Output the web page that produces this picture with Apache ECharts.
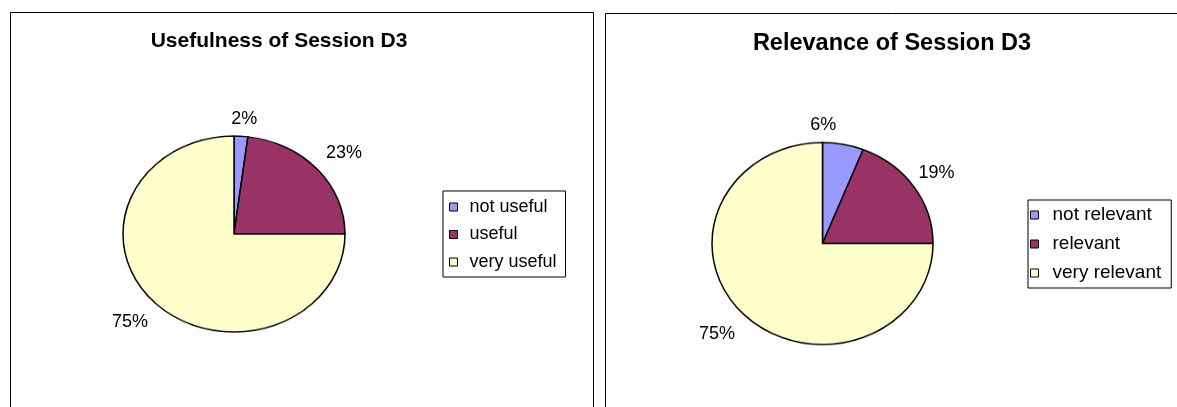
<!DOCTYPE html>
<html>
<head>
<meta charset="utf-8">
<script src="https://cdn.jsdelivr.net/npm/echarts@6/dist/echarts.min.js"></script>
<style>
  html, body { margin: 0; padding: 0; background: #fff; }
  #stage { position: relative; width: 1177px; height: 407px; overflow: hidden; }
  .layer { position: absolute; left: 0; top: 0; width: 1177px; height: 407px; }
</style>
</head>
<body>
<div id="stage">
  <div id="pieLeft" class="layer"></div>
  <div id="pieRight" class="layer"></div>
  <div id="overlay" class="layer"></div>
</div>
<script>
// data
const usefulCategories = ['not useful', 'useful', 'very useful']
const usefulValues = [2, 23, 75]
const relevanceCategories = ['not relevant', 'relevant', 'very relevant']
const relevanceValues = [6, 19, 75]
const sliceColors = ['#9999FF', '#993366', '#FFFFCC']

const FONT = "'Liberation Sans', Arial, sans-serif"

// the original pies are slightly squashed ellipses
const leftPie = { cx: 234, cy: 234, rx: 111, ry: 98 }
const rightPie = { cx: 822.5, cy: 243.5, rx: 110.5, ry: 101 }

// label placement tweaks: [labelLine length, distance]
const leftLabelTweak = [[3.7, -10], [10.8, 0.6], [12.8, -1.5]]
const rightLabelTweak = [[10.5, -35], [14.1, -7], [18.2, -3.5]]

function drawPie(el, pie, names, values) {
  el.style.transformOrigin = `0 ${pie.cy}px`
  el.style.transform = `scaleY(${pie.ry / pie.rx})`
  const chart = echarts.init(el, null, { renderer: 'canvas' })
  chart.setOption({
    animation: false,
    series: [{
      type: 'pie',
      center: [pie.cx, pie.cy],
      radius: pie.rx,
      startAngle: 90,
      clockwise: true,
      silent: true,
      label: { show: false },
      labelLine: { show: false },
      itemStyle: { borderColor: '#000', borderWidth: 1.5 },
      data: names.map((n, i) => ({ name: n, value: values[i], itemStyle: { color: sliceColors[i] } }))
    }]
  })
  return chart
}

drawPie(document.getElementById('pieLeft'), leftPie, usefulCategories, usefulValues)
drawPie(document.getElementById('pieRight'), rightPie, relevanceCategories, relevanceValues)

function labelSeries(pie, names, values, tweak) {
  return {
    type: 'pie',
    center: [pie.cx, pie.cy],
    radius: pie.rx,
    startAngle: 90,
    clockwise: true,
    silent: true,
    avoidLabelOverlap: false,
    itemStyle: { color: 'rgba(0,0,0,0)', borderWidth: 0 },
    label: {
      show: true,
      position: 'outside',
      formatter: '{c}%',
      color: '#000',
      fontFamily: FONT,
      fontSize: 18,
      textBorderWidth: 0
    },
    labelLine: { show: false, length2: 0 },
    data: names.map((n, i) => ({
      name: n,
      value: values[i],
      labelLine: { length: tweak[i][0], length2: 0 },
      label: { distanceToLabelLine: tweak[i][1] }
    }))
  }
}

function legendFor(names, left, top, size, gap, padding, textPad) {
  return {
    data: names.map((n, i) => ({ name: n, itemStyle: { color: sliceColors[i] } })),
    orient: 'vertical',
    left: left,
    top: top,
    icon: 'rect',
    itemWidth: 8,
    itemHeight: 8,
    itemGap: gap,
    padding: padding,
    borderColor: '#000',
    borderWidth: 1,
    selectedMode: false,
    itemStyle: { borderColor: '#000', borderWidth: 1 },
    textStyle: { fontFamily: FONT, fontSize: size, lineHeight: size, color: '#000', padding: [0, 0, 0, textPad] }
  }
}

const overlay = echarts.init(document.getElementById('overlay'))
overlay.setOption({
  animation: false,
  graphic: [
    { type: 'rect', z: -10, shape: { x: 10.5, y: 12.5, width: 583, height: 420 }, style: { fill: 'none', stroke: '#000', lineWidth: 1 } },
    { type: 'rect', z: -10, shape: { x: 605.5, y: 13.5, width: 600, height: 420 }, style: { fill: 'none', stroke: '#000', lineWidth: 1 } },
    { type: 'text', x: 279, y: 41, style: { text: 'Usefulness of Session D3', fontFamily: FONT, fontWeight: 'bold', fontSize: 21, align: 'center', verticalAlign: 'middle', fill: '#000' } },
    { type: 'text', x: 892, y: 44, style: { text: 'Relevance of Session D3', fontFamily: FONT, fontWeight: 'bold', fontSize: 23.5, align: 'center', verticalAlign: 'middle', fill: '#000' } }
  ],
  legend: [
    legendFor(usefulCategories, 443, 191, 18, 9.5, [7, 9, 6, 6], 7),
    legendFor(relevanceCategories, 1028, 200, 19, 10, [5.5, 10, 5.5, 2], 9)
  ],
  series: [
    labelSeries(leftPie, usefulCategories, usefulValues, leftLabelTweak),
    labelSeries(rightPie, relevanceCategories, relevanceValues, rightLabelTweak)
  ]
})
</script>
</body>
</html>
